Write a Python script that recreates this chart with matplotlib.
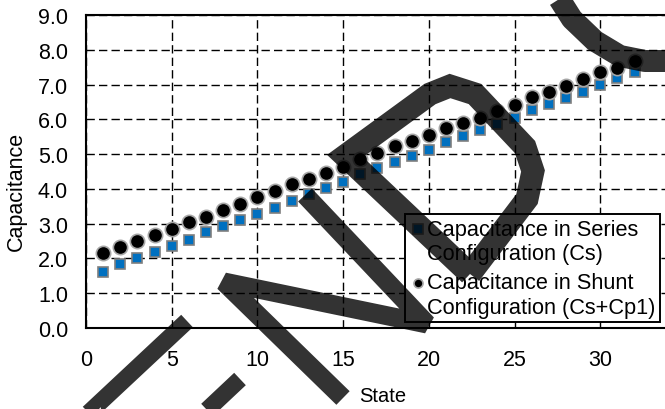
import numpy as np
import matplotlib
matplotlib.use('Agg')
import matplotlib.pyplot as plt
from matplotlib.lines import Line2D
from matplotlib.legend_handler import HandlerLine2D

plt.rcParams['font.family'] = ['Liberation Sans', 'DejaVu Sans']

# data
state = np.arange(1, 33)
cap_series = [1.62, 1.84, 2.01, 2.19, 2.35, 2.54, 2.77, 2.94, 3.10, 3.27, 3.46, 3.66,
              3.85, 4.02, 4.20, 4.43, 4.59, 4.78, 4.95, 5.12, 5.35, 5.53, 5.69, 5.86,
              6.05, 6.26, 6.44, 6.61, 6.79, 6.99, 7.18, 7.37]
cap_shunt = [2.16, 2.32, 2.51, 2.67, 2.84, 3.04, 3.18, 3.40, 3.56, 3.78, 3.95, 4.14,
             4.28, 4.45, 4.62, 4.86, 5.03, 5.22, 5.38, 5.55, 5.74, 5.89, 6.05, 6.24,
             6.41, 6.63, 6.80, 6.96, 7.16, 7.35, 7.49, 7.68]
label_series = 'Capacitance in Series\nConfiguration (Cs)'
label_shunt = 'Capacitance in Shunt\nConfiguration (Cs+Cp1)'

W, H = 665, 410


class TopLineHandler(HandlerLine2D):
    '''put the legend marker beside the first line of a two line label'''
    def create_artists(self, legend, orig_handle, xdescent, ydescent, width,
                       height, fontsize, trans):
        arts = super().create_artists(legend, orig_handle, xdescent, ydescent,
                                      width, height, fontsize, trans)
        for a in arts:
            a.set_ydata(np.asarray(a.get_ydata()) + 0.58 * fontsize)
            a.set_markersize(6.5)
        return arts


fig = plt.figure(figsize=(W / 100, H / 100), dpi=100)
# axes run past the right edge (chart is cropped at x ~ 34)
ax = fig.add_axes([86 / W, 1 - 329 / H, 600 / W, 313 / H])

ax.plot(state, cap_series, ls='none', marker='s', ms=7, mfc='#0070C0',
        mec='#7F7F7F', mew=1.2, label=label_series, zorder=3)
ax.plot(state, cap_shunt, ls='none', marker='o', ms=10.3, mfc='black',
        mec='#A6A6A6', mew=1.2, label=label_shunt, zorder=4)

ax.set_xlim(0, 35)
ax.set_ylim(0, 9)
ax.set_xticks(np.arange(0, 31, 5))
ax.set_yticks(np.arange(0, 9.5, 1))
ax.yaxis.set_major_formatter(matplotlib.ticker.FormatStrFormatter('%.1f'))
ax.tick_params(length=0, labelsize=15.5)
ax.tick_params(axis='y', pad=13)
ax.tick_params(axis='x', pad=15)
ax.grid(True, color='black', ls=(0, (6, 3)), lw=1.0)
ax.set_axisbelow(True)
for s in ['left', 'bottom', 'top']:
    ax.spines[s].set_linewidth(1.5)
ax.spines['right'].set_visible(False)

fig.text(16.5 / W, 1 - 191 / H, 'Capacitance', fontsize=15.5, rotation=90,
         ha='center', va='center')
fig.text(383 / W, 1 - 397 / H, 'State', fontsize=14.5, ha='center', va='center')

leg = ax.legend(loc='lower right', bbox_to_anchor=(660 / W, 1 - 323 / H),
                bbox_transform=fig.transFigure, borderaxespad=0, fontsize=15.7,
                handlelength=0.75, handletextpad=0.05, borderpad=0.2,
                labelspacing=0.4, fancybox=False, framealpha=1,
                handler_map={Line2D: TopLineHandler()})
leg.get_frame().set_edgecolor('black')
leg.get_frame().set_linewidth(1.4)


# dark stroked letters lying over the chart (pixel positions in the picture)
def overlay(pts, width, join='miter'):
    xs = [p[0] / W for p in pts]
    ys = [1 - p[1] / H for p in pts]
    fig.add_artist(Line2D(xs, ys, transform=fig.transFigure, color='black',
                          alpha=0.8, lw=width * 0.72, solid_capstyle='butt',
                          solid_joinstyle=join, zorder=10))


overlay([(187, 322), (95, 408), (135, 448)], 17)
overlay([(240, 380), (190, 427)], 17)
overlay([(343, 399), (224, 283), (427, 325), (305, 196)], 19, 'bevel')
overlay([(470, 275), (345, 157), (430, 95), (450, 87), (475, 95), (525, 148),
         (533, 172), (527, 200), (470, 275)], 23)
overlay([(553, -10), (572, 20), (595, 42), (620, 57), (645, 62), (680, 62)], 22,
        'round')

fig.savefig('out.png', dpi=100)
